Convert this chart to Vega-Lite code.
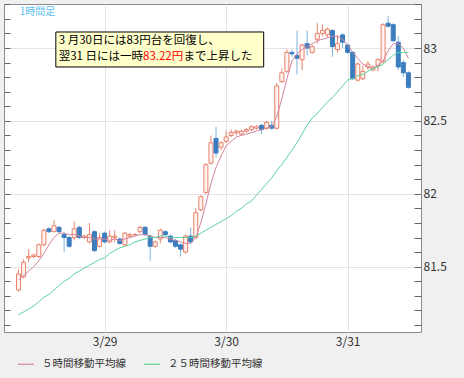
{
  "$schema": "https://vega.github.io/schema/vega-lite/v6.json",
  "width": 417,
  "height": 328,
  "autosize": "none",
  "padding": {"left": 4, "top": 4, "right": 43, "bottom": 46},
  "background": "#f0f0f0",
  "config": {
    "view": {"stroke": "#8c8c8c", "fill": "#ffffff", "strokeWidth": 1},
    "font": "Noto Sans CJK JP",
    "axis": {"labelFont": "Noto Sans CJK JP", "labelFontSize": 12, "labelColor": "#333333", "title": null},
    "legend": {"labelFont": "Noto Sans CJK JP"}
  },
  "datasets": {
    "candles": [
      {"t": "2017-03-28T07:00:00Z", "o": 81.34, "h": 81.48, "l": 81.33, "c": 81.45, "m5": 81.41, "m25": 81.17},
      {"t": "2017-03-28T08:00:00Z", "o": 81.43, "h": 81.55, "l": 81.42, "c": 81.53, "m5": 81.44, "m25": 81.19},
      {"t": "2017-03-28T09:00:00Z", "o": 81.56, "h": 81.62, "l": 81.53, "c": 81.57, "m5": 81.47, "m25": 81.21},
      {"t": "2017-03-28T10:00:00Z", "o": 81.57, "h": 81.59, "l": 81.56, "c": 81.58, "m5": 81.50, "m25": 81.23},
      {"t": "2017-03-28T11:00:00Z", "o": 81.57, "h": 81.66, "l": 81.56, "c": 81.65, "m5": 81.54, "m25": 81.26},
      {"t": "2017-03-28T12:00:00Z", "o": 81.65, "h": 81.76, "l": 81.64, "c": 81.75, "m5": 81.59, "m25": 81.29},
      {"t": "2017-03-28T13:00:00Z", "o": 81.76, "h": 81.77, "l": 81.73, "c": 81.74, "m5": 81.65, "m25": 81.31},
      {"t": "2017-03-28T14:00:00Z", "o": 81.74, "h": 81.82, "l": 81.74, "c": 81.78, "m5": 81.70, "m25": 81.34},
      {"t": "2017-03-28T15:00:00Z", "o": 81.77, "h": 81.78, "l": 81.73, "c": 81.74, "m5": 81.73, "m25": 81.37},
      {"t": "2017-03-28T16:00:00Z", "o": 81.72, "h": 81.74, "l": 81.60, "c": 81.70, "m5": 81.73, "m25": 81.40},
      {"t": "2017-03-28T17:00:00Z", "o": 81.70, "h": 81.71, "l": 81.63, "c": 81.64, "m5": 81.72, "m25": 81.42},
      {"t": "2017-03-28T18:00:00Z", "o": 81.70, "h": 81.81, "l": 81.68, "c": 81.76, "m5": 81.72, "m25": 81.45},
      {"t": "2017-03-28T19:00:00Z", "o": 81.77, "h": 81.78, "l": 81.69, "c": 81.70, "m5": 81.71, "m25": 81.47},
      {"t": "2017-03-28T20:00:00Z", "o": 81.70, "h": 81.72, "l": 81.69, "c": 81.71, "m5": 81.70, "m25": 81.49},
      {"t": "2017-03-28T21:00:00Z", "o": 81.67, "h": 81.80, "l": 81.66, "c": 81.72, "m5": 81.70, "m25": 81.51},
      {"t": "2017-03-28T22:00:00Z", "o": 81.74, "h": 81.75, "l": 81.60, "c": 81.61, "m5": 81.69, "m25": 81.53},
      {"t": "2017-03-28T23:00:00Z", "o": 81.64, "h": 81.73, "l": 81.63, "c": 81.70, "m5": 81.69, "m25": 81.55},
      {"t": "2017-03-29T00:00:00Z", "o": 81.73, "h": 81.74, "l": 81.66, "c": 81.67, "m5": 81.69, "m25": 81.56},
      {"t": "2017-03-29T01:00:00Z", "o": 81.67, "h": 81.75, "l": 81.66, "c": 81.71, "m5": 81.68, "m25": 81.59},
      {"t": "2017-03-29T02:00:00Z", "o": 81.70, "h": 81.75, "l": 81.67, "c": 81.71, "m5": 81.69, "m25": 81.61},
      {"t": "2017-03-29T03:00:00Z", "o": 81.69, "h": 81.70, "l": 81.65, "c": 81.66, "m5": 81.68, "m25": 81.63},
      {"t": "2017-03-29T04:00:00Z", "o": 81.65, "h": 81.74, "l": 81.64, "c": 81.73, "m5": 81.69, "m25": 81.64},
      {"t": "2017-03-29T05:00:00Z", "o": 81.71, "h": 81.73, "l": 81.70, "c": 81.72, "m5": 81.70, "m25": 81.65},
      {"t": "2017-03-29T06:00:00Z", "o": 81.72, "h": 81.73, "l": 81.71, "c": 81.72, "m5": 81.71, "m25": 81.67},
      {"t": "2017-03-29T07:00:00Z", "o": 81.74, "h": 81.78, "l": 81.73, "c": 81.77, "m5": 81.72, "m25": 81.68},
      {"t": "2017-03-29T08:00:00Z", "o": 81.77, "h": 81.78, "l": 81.71, "c": 81.72, "m5": 81.72, "m25": 81.69},
      {"t": "2017-03-29T09:00:00Z", "o": 81.71, "h": 81.72, "l": 81.54, "c": 81.64, "m5": 81.71, "m25": 81.70},
      {"t": "2017-03-29T10:00:00Z", "o": 81.64, "h": 81.68, "l": 81.63, "c": 81.67, "m5": 81.70, "m25": 81.70},
      {"t": "2017-03-29T11:00:00Z", "o": 81.69, "h": 81.76, "l": 81.66, "c": 81.75, "m5": 81.70, "m25": 81.71},
      {"t": "2017-03-29T12:00:00Z", "o": 81.74, "h": 81.75, "l": 81.71, "c": 81.72, "m5": 81.70, "m25": 81.71},
      {"t": "2017-03-29T13:00:00Z", "o": 81.71, "h": 81.72, "l": 81.66, "c": 81.67, "m5": 81.69, "m25": 81.70},
      {"t": "2017-03-29T14:00:00Z", "o": 81.68, "h": 81.69, "l": 81.63, "c": 81.64, "m5": 81.68, "m25": 81.70},
      {"t": "2017-03-29T15:00:00Z", "o": 81.65, "h": 81.66, "l": 81.57, "c": 81.62, "m5": 81.67, "m25": 81.70},
      {"t": "2017-03-29T16:00:00Z", "o": 81.60, "h": 81.72, "l": 81.59, "c": 81.71, "m5": 81.66, "m25": 81.70},
      {"t": "2017-03-29T17:00:00Z", "o": 81.71, "h": 81.77, "l": 81.66, "c": 81.67, "m5": 81.66, "m25": 81.70},
      {"t": "2017-03-29T18:00:00Z", "o": 81.70, "h": 81.90, "l": 81.69, "c": 81.87, "m5": 81.70, "m25": 81.71},
      {"t": "2017-03-29T19:00:00Z", "o": 81.89, "h": 81.99, "l": 81.88, "c": 81.98, "m5": 81.80, "m25": 81.73},
      {"t": "2017-03-29T20:00:00Z", "o": 82.01, "h": 82.21, "l": 82.00, "c": 82.20, "m5": 81.93, "m25": 81.75},
      {"t": "2017-03-29T21:00:00Z", "o": 82.21, "h": 82.40, "l": 82.20, "c": 82.35, "m5": 82.07, "m25": 81.77},
      {"t": "2017-03-29T22:00:00Z", "o": 82.38, "h": 82.46, "l": 82.25, "c": 82.28, "m5": 82.18, "m25": 81.79},
      {"t": "2017-03-29T23:00:00Z", "o": 82.32, "h": 82.36, "l": 82.30, "c": 82.35, "m5": 82.26, "m25": 81.81},
      {"t": "2017-03-30T00:00:00Z", "o": 82.36, "h": 82.43, "l": 82.35, "c": 82.39, "m5": 82.33, "m25": 81.83},
      {"t": "2017-03-30T01:00:00Z", "o": 82.40, "h": 82.44, "l": 82.39, "c": 82.42, "m5": 82.36, "m25": 81.85},
      {"t": "2017-03-30T02:00:00Z", "o": 82.42, "h": 82.44, "l": 82.40, "c": 82.43, "m5": 82.39, "m25": 81.88},
      {"t": "2017-03-30T03:00:00Z", "o": 82.41, "h": 82.44, "l": 82.40, "c": 82.43, "m5": 82.40, "m25": 81.90},
      {"t": "2017-03-30T04:00:00Z", "o": 82.43, "h": 82.45, "l": 82.42, "c": 82.44, "m5": 82.41, "m25": 81.93},
      {"t": "2017-03-30T05:00:00Z", "o": 82.44, "h": 82.47, "l": 82.43, "c": 82.46, "m5": 82.42, "m25": 81.95},
      {"t": "2017-03-30T06:00:00Z", "o": 82.45, "h": 82.47, "l": 82.44, "c": 82.46, "m5": 82.43, "m25": 81.99},
      {"t": "2017-03-30T07:00:00Z", "o": 82.47, "h": 82.48, "l": 82.41, "c": 82.44, "m5": 82.44, "m25": 82.03},
      {"t": "2017-03-30T08:00:00Z", "o": 82.45, "h": 82.50, "l": 82.44, "c": 82.49, "m5": 82.45, "m25": 82.07},
      {"t": "2017-03-30T09:00:00Z", "o": 82.47, "h": 82.50, "l": 82.44, "c": 82.45, "m5": 82.46, "m25": 82.11},
      {"t": "2017-03-30T10:00:00Z", "o": 82.45, "h": 82.76, "l": 82.44, "c": 82.74, "m5": 82.53, "m25": 82.16},
      {"t": "2017-03-30T11:00:00Z", "o": 82.77, "h": 82.86, "l": 82.76, "c": 82.83, "m5": 82.65, "m25": 82.20},
      {"t": "2017-03-30T12:00:00Z", "o": 82.84, "h": 82.99, "l": 82.83, "c": 82.97, "m5": 82.79, "m25": 82.25},
      {"t": "2017-03-30T13:00:00Z", "o": 82.97, "h": 82.99, "l": 82.94, "c": 82.96, "m5": 82.91, "m25": 82.30},
      {"t": "2017-03-30T14:00:00Z", "o": 82.95, "h": 83.12, "l": 82.82, "c": 82.93, "m5": 82.96, "m25": 82.35},
      {"t": "2017-03-30T15:00:00Z", "o": 82.92, "h": 83.03, "l": 82.85, "c": 83.02, "m5": 82.99, "m25": 82.41},
      {"t": "2017-03-30T16:00:00Z", "o": 83.03, "h": 83.12, "l": 82.95, "c": 83.00, "m5": 83.01, "m25": 82.47},
      {"t": "2017-03-30T17:00:00Z", "o": 82.97, "h": 83.02, "l": 82.96, "c": 83.01, "m5": 83.03, "m25": 82.52},
      {"t": "2017-03-30T18:00:00Z", "o": 83.06, "h": 83.17, "l": 83.03, "c": 83.10, "m5": 83.05, "m25": 82.55},
      {"t": "2017-03-30T19:00:00Z", "o": 83.10, "h": 83.16, "l": 83.08, "c": 83.12, "m5": 83.06, "m25": 82.59},
      {"t": "2017-03-30T20:00:00Z", "o": 83.09, "h": 83.14, "l": 83.07, "c": 83.13, "m5": 83.07, "m25": 82.63},
      {"t": "2017-03-30T21:00:00Z", "o": 83.12, "h": 83.13, "l": 82.94, "c": 83.01, "m5": 83.08, "m25": 82.66},
      {"t": "2017-03-30T22:00:00Z", "o": 82.99, "h": 83.09, "l": 82.97, "c": 83.03, "m5": 83.08, "m25": 82.70},
      {"t": "2017-03-30T23:00:00Z", "o": 83.09, "h": 83.10, "l": 83.00, "c": 83.04, "m5": 83.06, "m25": 82.74},
      {"t": "2017-03-31T00:00:00Z", "o": 83.02, "h": 83.03, "l": 82.96, "c": 82.97, "m5": 83.02, "m25": 82.78},
      {"t": "2017-03-31T01:00:00Z", "o": 82.97, "h": 82.98, "l": 82.78, "c": 82.79, "m5": 82.97, "m25": 82.79},
      {"t": "2017-03-31T02:00:00Z", "o": 82.78, "h": 82.90, "l": 82.77, "c": 82.89, "m5": 82.93, "m25": 82.81},
      {"t": "2017-03-31T03:00:00Z", "o": 82.79, "h": 82.88, "l": 82.78, "c": 82.84, "m5": 82.89, "m25": 82.82},
      {"t": "2017-03-31T04:00:00Z", "o": 82.87, "h": 82.91, "l": 82.85, "c": 82.89, "m5": 82.87, "m25": 82.84},
      {"t": "2017-03-31T05:00:00Z", "o": 82.85, "h": 82.88, "l": 82.84, "c": 82.87, "m5": 82.86, "m25": 82.86},
      {"t": "2017-03-31T06:00:00Z", "o": 82.88, "h": 82.93, "l": 82.84, "c": 82.92, "m5": 82.88, "m25": 82.87},
      {"t": "2017-03-31T07:00:00Z", "o": 82.91, "h": 83.17, "l": 82.89, "c": 83.16, "m5": 82.91, "m25": 82.89},
      {"t": "2017-03-31T08:00:00Z", "o": 83.17, "h": 83.22, "l": 83.14, "c": 83.15, "m5": 82.98, "m25": 82.92},
      {"t": "2017-03-31T09:00:00Z", "o": 83.16, "h": 83.17, "l": 83.04, "c": 83.05, "m5": 83.03, "m25": 82.95},
      {"t": "2017-03-31T10:00:00Z", "o": 83.04, "h": 83.08, "l": 82.85, "c": 82.87, "m5": 83.03, "m25": 82.97},
      {"t": "2017-03-31T11:00:00Z", "o": 82.90, "h": 82.92, "l": 82.80, "c": 82.83, "m5": 83.00, "m25": 82.97},
      {"t": "2017-03-31T12:00:00Z", "o": 82.83, "h": 82.84, "l": 82.72, "c": 82.73, "m5": 82.93, "m25": 82.97}
    ]
  },
  "encoding": {
    "x": {
      "field": "t", "type": "temporal",
      "scale": {"type": "utc", "domain": [
        {"year": 2017, "month": 3, "date": 28, "hours": 5, "minutes": 7, "utc": true},
        {"year": 2017, "month": 3, "date": 31, "hours": 13, "minutes": 30, "utc": true}
      ]},
      "axis": {
        "values": [
          {"year": 2017, "month": 3, "date": 29, "utc": true},
          {"year": 2017, "month": 3, "date": 30, "utc": true},
          {"year": 2017, "month": 3, "date": 31, "utc": true}
        ],
        "labelExpr": "utcFormat(datum.value, '%-m/%d')",
        "ticks": false, "domain": false, "grid": true, "gridColor": "#e4e4e4",
        "labelPadding": 4, "labelFontSize": 12, "title": null
      }
    }
  },
  "layer": [
    {
      "data": {"name": "candles"},
      "mark": {"type": "rule", "strokeWidth": 1},
      "encoding": {
        "y": {
          "field": "l", "type": "quantitative",
          "scale": {"domain": [81.052, 83.302], "nice": false, "zero": false},
          "axis": {
            "orient": "right",
            "offset": -7,
            "values": [81.1, 81.2, 81.3, 81.4, 81.5, 81.6, 81.7, 81.8, 81.9, 82.0, 82.1, 82.2, 82.3, 82.4, 82.5, 82.6, 82.7, 82.8, 82.9, 83.0, 83.1, 83.2, 83.3],
            "format": "~g",
            "labelExpr": "abs(datum.value * 2 - round(datum.value * 2)) < 0.01 ? datum.label : ''",
            "tickSize": 7, "tickColor": "#666666", "domain": false,
            "grid": true, "gridColor": "#e4e4e4",
            "gridOpacity": {"condition": {"test": "abs(datum.value * 2 - round(datum.value * 2)) < 0.01", "value": 1}, "value": 0},
            "labelPadding": 2, "labelFontSize": 12
          }
        },
        "y2": {"field": "h"},
        "stroke": {"condition": {"test": "datum.o <= datum.c", "value": "#e9806a"}, "value": "#7fb2de"}
      }
    },
    {
      "data": {"name": "candles"},
      "mark": {"type": "bar", "size": 4, "strokeWidth": 1},
      "encoding": {
        "y": {"field": "o", "type": "quantitative", "axis": null},
        "y2": {"field": "c"},
        "fill": {"condition": {"test": "datum.o <= datum.c", "value": "#fff3ef"}, "value": "#3b7dbf"},
        "stroke": {"condition": {"test": "datum.o <= datum.c", "value": "#e9806a"}, "value": "#3b7dbf"}
      }
    },
    {
      "data": {"name": "candles"},
      "transform": [{"fold": ["m5", "m25"], "as": ["key", "value"]}],
      "mark": {"type": "line", "strokeWidth": 1},
      "encoding": {
        "y": {
          "field": "value", "type": "quantitative",
          "axis": {
            "orient": "left",
            "offset": -6,
            "values": [81.1, 81.2, 81.3, 81.4, 81.5, 81.6, 81.7, 81.8, 81.9, 82.0, 82.1, 82.2, 82.3, 82.4, 82.5, 82.6, 82.7, 82.8, 82.9, 83.0, 83.1, 83.2, 83.3],
            "labels": false, "tickSize": 6, "tickColor": "#666666", "domain": false, "grid": false
          }
        },
        "stroke": {
          "field": "key", "type": "nominal",
          "scale": {"domain": ["m5", "m25"], "range": ["#d4869f", "#5cd39a"]},
          "legend": {
            "orient": "none", "legendX": 13, "legendY": 351, "direction": "horizontal",
            "title": null, "symbolType": "stroke", "symbolSize": 256, "symbolStrokeWidth": 1.2,
            "labelFontSize": 10.5, "labelColor": "#333333", "labelOffset": 7, "columnPadding": 15,
            "labelExpr": "datum.label == 'm5' ? '５時間移動平均線' : '２５時間移動平均線'"
          }
        }
      }
    },
    {
      "data": {"values": [{"t": "2017-03-28T14:22:00Z", "t2": "2017-03-30T07:25:00Z", "p": 82.870, "p2": 83.110}]},
      "mark": {"type": "rect", "fill": "#ffffcc", "stroke": "#000000", "strokeWidth": 1},
      "encoding": {
        "x2": {"field": "t2"},
        "y": {"field": "p", "type": "quantitative", "axis": null},
        "y2": {"field": "p2"}
      }
    },
    {
      "data": {"values": [
        {"t": "2017-03-28T14:56:00Z", "p": 83.045, "text": "3 月30日には83円台を回復し、", "kind": "n"},
        {"t": "2017-03-28T14:56:00Z", "p": 82.940, "text": "翌31 日には一時", "kind": "n"},
        {"t": "2017-03-29T07:35:00Z", "p": 82.940, "text": "83.22円", "kind": "r"},
        {"t": "2017-03-29T15:35:00Z", "p": 82.940, "text": "まで上昇した", "kind": "n"}
      ]},
      "mark": {"type": "text", "align": "left", "baseline": "middle", "fontSize": 11.5, "font": "Noto Sans CJK JP"},
      "encoding": {
        "y": {"field": "p", "type": "quantitative", "axis": null},
        "text": {"field": "text"},
        "fill": {"field": "kind", "type": "nominal", "scale": {"domain": ["n", "r"], "range": ["#000000", "#ff0000"]}, "legend": null}
      }
    },
    {
      "data": {"values": [{"t": "2017-03-28T07:14:00Z", "p": 83.247, "text": "1時間足"}]},
      "mark": {"type": "text", "align": "left", "baseline": "middle", "fontSize": 10, "color": "#5bbfef", "font": "Noto Sans CJK JP"},
      "encoding": {
        "y": {"field": "p", "type": "quantitative", "axis": null},
        "text": {"field": "text"}
      }
    }
  ],
  "resolve": {"axis": {"y": "independent"}}
}
